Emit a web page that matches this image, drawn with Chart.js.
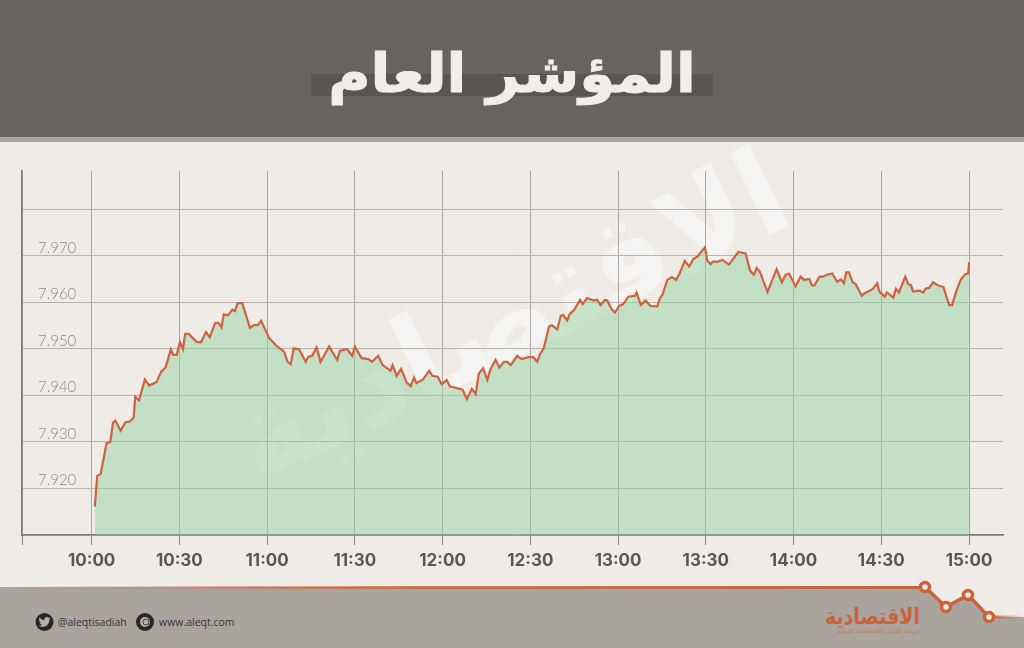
<!DOCTYPE html>
<html lang="ar">
<head>
<meta charset="utf-8">
<title>المؤشر العام</title>
<script src="https://cdn.jsdelivr.net/npm/chart.js@4"></script>
<style>
  html, body { margin: 0; padding: 0; background: #efece8; }
  #page { position: relative; width: 1024px; height: 648px; overflow: hidden; background: #efece8; }
  #page > * { position: absolute; }
  #header { left: 0; top: 0; width: 1024px; height: 137px; background: #686360; }
  #header-line { left: 0; top: 137px; width: 1024px; height: 5px; background: #aaa59e; }
  #title-strip { left: 311px; top: 74px; width: 402px; height: 22px; background: #5a5552; }
  #title { left: 0; top: 34px; width: 1024px; text-align: center; color: #f1eeea; font: bold 54px "DejaVu Sans"; line-height: 80px; transform: scaleX(1.07); -webkit-text-stroke: 1px #f1eeea; }
  #chart { left: 0; top: 0; }
  #watermark { left: 170px; top: 246px; width: 680px; text-align: center; color: rgba(255,255,255,.42); font: bold 120px "DejaVu Sans"; line-height: 140px; transform: rotate(-26deg); white-space: nowrap; }
  #footer { left: 0; top: 0; }
  .foot-text { color: #3a3531; font: 10.5px "Open Sans"; top: 614px; line-height: 16px; }
  #logo { left: 800px; width: 120px; top: 601px; text-align: right; color: #c9633a; font: bold 19px "DejaVu Sans"; line-height: 30px; white-space: nowrap; transform: scaleY(1.2); }
  #logo-sub { left: 800px; width: 120px; top: 626px; text-align: right; color: #c9785a; font: 6.5px "DejaVu Sans"; line-height: 10px; white-space: nowrap; }
</style>
</head>
<body>
<div id="page">
  <div id="header"></div>
  <div id="header-line"></div>
  <div id="title-strip"></div>
  <div id="title">المؤشر العام</div>

  <svg id="footer" width="1024" height="648">
    <defs>
      <linearGradient id="fade" gradientUnits="userSpaceOnUse" x1="0" y1="0" x2="925" y2="0">
        <stop offset="0" stop-color="#c9633a" stop-opacity="0"/>
        <stop offset="0.45" stop-color="#c9633a" stop-opacity="0.8"/>
        <stop offset="1" stop-color="#c9633a"/>
      </linearGradient>
      <linearGradient id="fade2" gradientUnits="userSpaceOnUse" x1="989" y1="0" x2="1024" y2="0">
        <stop offset="0" stop-color="#c9633a"/>
        <stop offset="1" stop-color="#c9633a" stop-opacity="0"/>
      </linearGradient>
    </defs>
    <path d="M0 587 H925 L946 607 L968 595 L989 617 H1024 V648 H0 Z" fill="#a9a49e"/>
    <path d="M0 587.5 H925" stroke="url(#fade)" stroke-width="3" fill="none"/>
    <path d="M925 587 L946 607 L968 595 L989 617" stroke="#c9633a" stroke-width="3.5" fill="none"/>
    <path d="M989 617 H1024" stroke="url(#fade2)" stroke-width="3" fill="none"/>
    <g fill="#efece8" stroke="#c9633a" stroke-width="3.5">
      <circle cx="925" cy="587" r="4.5"/>
      <circle cx="946" cy="607" r="4.5"/>
      <circle cx="968" cy="595" r="4.5"/>
      <circle cx="989" cy="617" r="4.5"/>
    </g>
    <circle cx="44.5" cy="622" r="9" fill="#2b2622"/>
    <path transform="translate(38.5 616) scale(0.5)" fill="#b5b0aa" d="M23.953 4.57a10 10 0 01-2.825.775 4.958 4.958 0 002.163-2.723c-.951.555-2.005.959-3.127 1.184a4.92 4.92 0 00-8.384 4.482C7.69 8.095 4.067 6.13 1.64 3.162a4.822 4.822 0 00-.666 2.475c0 1.71.87 3.213 2.188 4.096a4.904 4.904 0 01-2.228-.616v.06a4.923 4.923 0 003.946 4.827 4.996 4.996 0 01-2.212.085 4.936 4.936 0 004.604 3.417 9.867 9.867 0 01-6.102 2.105c-.39 0-.779-.023-1.17-.067a13.995 13.995 0 007.557 2.209c9.053 0 13.998-7.496 13.998-13.985 0-.21 0-.42-.015-.63A9.935 9.935 0 0024 4.59z"/>
    <circle cx="145" cy="622" r="9" fill="#2b2622"/>
    <circle cx="145" cy="622" r="5" fill="#b5b0aa"/>
    <circle cx="146" cy="622" r="3" fill="none" stroke="#2b2622" stroke-width="0.8"/>
  </svg>
  <div class="foot-text" style="left:58px">@aleqtisadiah</div>
  <div class="foot-text" style="left:159px">www.aleqt.com</div>
  <div id="logo">الاقتصادية</div>
  <div id="logo-sub">جريدة العرب الاقتصادية الدولية</div>

  <div id="watermark">الاقتصادية</div>
  <canvas id="chart" width="1024" height="648"></canvas>
</div>

<script>
// minutes after 10:00
const minutes = [1.1,1.9,3.1,5.1,6.4,7.3,8.1,9.9,11.5,13.1,14.4,14.9,16.2,18.2,19.7,22.2,23.8,25.3,27.1,27.9,29.1,30.2,31.2,32.0,33.2,35.9,37.4,39.1,40.4,42.2,43.3,44.4,45.2,46.7,48.1,49.0,49.9,51.5,54.1,55.5,56.8,58.0,60.7,63.3,65.8,67.0,68.1,69.1,70.9,73.2,74.1,75.4,76.9,78.3,81.2,84.0,84.9,87.4,89.1,90.0,92.3,94.6,95.9,98.0,99.5,102.2,102.9,104.3,105.8,107.7,109.1,110.2,111.1,113.4,115.4,116.5,118.3,119.7,121.4,122.5,124.2,126.8,128.3,130.0,131.3,132.4,133.9,135.3,136.4,138.1,139.4,141.0,142.1,143.3,145.5,147.0,149.3,151.0,152.4,153.3,154.6,156.4,157.3,159.2,160.4,161.2,162.6,163.5,165.0,167.0,167.9,169.4,171.5,172.9,174.0,175.5,176.3,177.8,178.9,180.4,181.8,183.5,185.8,186.3,187.8,189.4,191.1,193.4,194.3,195.2,196.8,198.4,199.8,201.1,202.8,204.3,205.7,207.1,209.7,210.5,211.6,212.5,213.9,215.7,217.9,221.1,223.6,225.1,226.4,227.4,228.5,231.1,234.2,236.0,237.3,238.5,240.7,242.4,243.6,245.4,246.3,247.1,248.9,250.1,251.3,253.2,254.9,256.2,257.2,258.0,258.9,260.2,261.2,263.3,264.2,267.0,268.6,269.3,271.2,271.9,274.1,275.0,276.0,278.2,279.2,280.1,280.9,283.0,284.3,285.1,286.4,287.7,289.4,291.2,293.2,294.2,295.8,297.2,298.6,299.7,300.0];

const indexValues = [7916.1,7922.7,7923.1,7929.7,7930.0,7934.1,7934.6,7932.4,7934.2,7934.4,7935.3,7939.7,7938.9,7943.4,7942.1,7942.9,7945.1,7946.0,7949.9,7948.7,7948.7,7951.4,7949.9,7953.2,7953.2,7951.5,7951.4,7953.6,7952.5,7955.5,7955.6,7954.6,7957.4,7957.2,7958.4,7958.1,7959.8,7959.8,7954.5,7955.1,7955.1,7956.0,7952.3,7950.6,7949.4,7947.2,7946.7,7950.1,7949.9,7947.2,7948.3,7948.5,7950.3,7947.2,7950.5,7947.6,7949.6,7949.9,7948.5,7950.5,7948.0,7947.8,7947.2,7948.5,7946.5,7945.3,7946.5,7944.2,7945.7,7942.8,7942.0,7943.8,7942.6,7943.5,7945.3,7944.2,7944.0,7942.4,7943.3,7941.9,7941.7,7941.2,7939.2,7941.4,7940.3,7944.7,7945.8,7943.3,7945.6,7947.6,7946.0,7947.2,7947.2,7946.5,7948.5,7947.8,7948.2,7948.2,7947.2,7948.9,7950.1,7954.8,7955.1,7954.2,7957.1,7957.3,7956.1,7957.5,7958.4,7960.5,7959.6,7960.9,7960.4,7960.5,7959.4,7960.5,7960.4,7958.5,7957.8,7959.2,7959.6,7961.2,7961.4,7962.1,7959.4,7960.4,7959.2,7959.1,7960.9,7961.6,7964.8,7965.4,7964.8,7966.3,7968.9,7967.7,7969.3,7969.8,7971.8,7968.9,7968.2,7968.8,7968.7,7969.1,7968.1,7970.8,7970.5,7966.8,7965.9,7967.4,7966.5,7962.2,7967.1,7964.3,7965.9,7966.1,7963.4,7965.5,7964.8,7965.0,7963.6,7963.6,7965.5,7965.5,7965.9,7966.2,7964.4,7964.9,7964.1,7966.4,7966.4,7964.3,7963.9,7961.4,7961.9,7962.8,7964.1,7962.3,7961.2,7962.1,7961.0,7962.9,7962.1,7965.5,7963.9,7963.7,7962.3,7962.5,7962.1,7962.9,7963.1,7964.3,7963.6,7963.3,7959.4,7959.4,7962.7,7964.9,7966.0,7966.2,7968.6];

const timeTicks = [0,30,60,90,120,150,180,210,240,270,300];
const timeLabels = ['10:00','10:30','11:00','11:30','12:00','12:30','13:00','13:30','14:00','14:30','15:00'];
const indexTicks = [7910,7920,7930,7940,7950,7960,7970,7980];
const indexLabels = ['','7.920','7.930','7.940','7.950','7.960','7.970',''];

const xMin = -23.8, xMax = 311.6, yMin = 7910, yMax = 7988.2;

new Chart(document.getElementById('chart'), {
  type: 'line',
  data: {
    datasets: [{
      data: minutes.map((m, i) => ({ x: m, y: indexValues[i] })),
      borderColor: '#cf6240',
      borderWidth: 2.2,
      backgroundColor: 'rgba(151,210,162,.5)',
      fill: 'start',
      tension: 0,
      pointRadius: 0
    }]
  },
  options: {
    responsive: false,
    animation: false,
    layout: { padding: { top: 171, right: 21, left: 0, bottom: 0 } },
    plugins: { legend: { display: false }, tooltip: { enabled: false } },
    scales: {
      x: {
        type: 'linear',
        min: xMin,
        max: xMax,
        afterBuildTicks: s => { s.ticks = [xMin, ...timeTicks].map(v => ({ value: v })); },
        afterFit: s => { s.height = 648 - 535; },
        grid: { color: '#a9a6a3', lineWidth: 1, tickLength: 10, tickColor: '#8a8784' },
        border: { color: '#7d7a77', width: 1.5 },
        ticks: {
          autoSkip: false,
          maxRotation: 0,
          padding: 6,
          color: '#5b5755',
          font: { family: 'Inter', weight: '700', size: 17 },
          callback: v => timeLabels[timeTicks.indexOf(v)] || ''
        }
      },
      y: {
        min: yMin,
        max: yMax,
        afterBuildTicks: s => { s.ticks = indexTicks.map(v => ({ value: v })); },
        afterFit: s => { s.width = 22; },
        grid: { color: '#b5b2af', lineWidth: 1, drawTicks: false },
        border: { color: '#7d7a77', width: 1.5 },
        ticks: {
          mirror: true,
          padding: 16,
          color: '#8e8b88',
          font: { family: 'Lato', weight: '300', size: 15, lineHeight: 1.05 },
          // empty second line lifts the label above its grid line
          callback: v => [indexLabels[indexTicks.indexOf(v)], ' ']
        }
      }
    }
  }
});
</script>
</body>
</html>
